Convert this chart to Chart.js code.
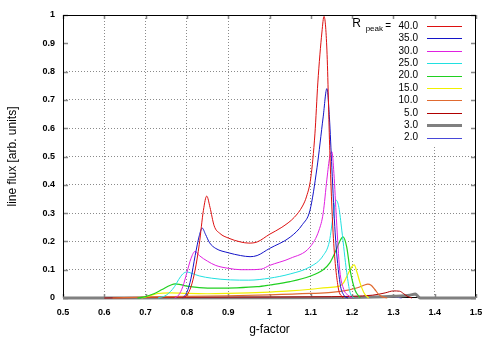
<!DOCTYPE html>
<html>
<head>
<meta charset="utf-8">
<script src="https://cdn.jsdelivr.net/npm/chart.js@4"></script>
<style>
  html, body { margin: 0; padding: 0; background: #fff; }
  #wrap { width: 498px; height: 349px; }
</style>
</head>
<body>
<div id="wrap"><canvas id="myChart"></canvas></div>
<script>
//legend labels (R_peak values), top to bottom
const peakLabels = ['40.0', '35.0', '30.0', '25.0', '20.0', '15.0', '10.0', '5.0', '3.0', '2.0'];

//g-factor and line flux, one pair per curve
const gR40 = [0.79, 0.80, 0.81, 0.82, 0.83, 0.84, 0.848, 0.856, 0.866, 0.88, 0.90, 0.93, 0.95, 0.97, 1.00, 1.03, 1.06, 1.08, 1.09, 1.10, 1.11, 1.117, 1.127, 1.132, 1.139, 1.146, 1.154, 1.166, 1.178];
const fR40 = [0, 0.01, 0.04, 0.10, 0.19, 0.31, 0.36, 0.32, 0.255, 0.228, 0.212, 0.198, 0.194, 0.198, 0.225, 0.25, 0.285, 0.325, 0.36, 0.425, 0.58, 0.76, 0.94, 0.995, 0.876, 0.52, 0.23, 0.04, 0];

const gR35 = [0.79, 0.80, 0.81, 0.82, 0.83, 0.837, 0.845, 0.855, 0.87, 0.90, 0.93, 0.953, 0.97, 1.00, 1.05, 1.08, 1.098, 1.115, 1.13, 1.139, 1.145, 1.151, 1.159, 1.171, 1.18, 1.19];
const fR35 = [0, 0.02, 0.07, 0.15, 0.22, 0.247, 0.225, 0.195, 0.175, 0.16, 0.15, 0.146, 0.15, 0.175, 0.215, 0.26, 0.31, 0.46, 0.64, 0.74, 0.64, 0.46, 0.23, 0.05, 0.01, 0];

const gR30 = [0.77, 0.78, 0.79, 0.80, 0.81, 0.82, 0.83, 0.85, 0.87, 0.90, 0.93, 0.95, 0.98, 1.00, 1.05, 1.098, 1.12, 1.13, 1.139, 1.146, 1.151, 1.156, 1.162, 1.17, 1.18, 1.19, 1.20];
const fR30 = [0, 0.01, 0.04, 0.09, 0.14, 0.165, 0.15, 0.13, 0.115, 0.105, 0.1, 0.1, 0.102, 0.115, 0.14, 0.18, 0.24, 0.3, 0.42, 0.5, 0.517, 0.44, 0.28, 0.1, 0.03, 0.01, 0];

const gR25 = [0.73, 0.75, 0.77, 0.78, 0.79, 0.80, 0.81, 0.83, 0.86, 0.905, 0.95, 1.00, 1.05, 1.098, 1.13, 1.145, 1.155, 1.161, 1.168, 1.175, 1.187, 1.195, 1.205];
const fR25 = [0, 0.01, 0.04, 0.065, 0.085, 0.092, 0.088, 0.078, 0.07, 0.064, 0.063, 0.07, 0.085, 0.11, 0.15, 0.2, 0.3, 0.346, 0.32, 0.24, 0.09, 0.02, 0];

const gR20 = [0.68, 0.70, 0.72, 0.74, 0.76, 0.772, 0.785, 0.80, 0.83, 0.873, 0.92, 0.97, 1.00, 1.05, 1.098, 1.13, 1.146, 1.16, 1.17, 1.178, 1.187, 1.195, 1.207, 1.22];
const fR20 = [0, 0.005, 0.015, 0.03, 0.045, 0.05, 0.047, 0.042, 0.037, 0.035, 0.036, 0.04, 0.046, 0.058, 0.077, 0.1, 0.124, 0.165, 0.2, 0.216, 0.18, 0.1, 0.028, 0];

const gR15 = [0.69, 0.71, 0.73, 0.76, 0.80, 0.85, 0.90, 0.95, 1.00, 1.05, 1.10, 1.14, 1.17, 1.18, 1.19, 1.20, 1.205, 1.212, 1.22, 1.23, 1.24];
const fR15 = [0, 0.008, 0.016, 0.018, 0.016, 0.015, 0.016, 0.018, 0.021, 0.025, 0.031, 0.037, 0.042, 0.055, 0.085, 0.112, 0.117, 0.09, 0.05, 0.015, 0];

const gR10 = [0.62, 0.70, 0.80, 0.90, 1.00, 1.10, 1.15, 1.19, 1.215, 1.23, 1.238, 1.246, 1.255, 1.265, 1.275, 1.285];
const fR10 = [0, 0.003, 0.006, 0.008, 0.011, 0.016, 0.02, 0.028, 0.037, 0.046, 0.049, 0.045, 0.03, 0.012, 0.003, 0];

const gR5 = [0.60, 0.70, 0.90, 1.10, 1.20, 1.25, 1.28, 1.30, 1.315, 1.325, 1.335, 1.345];
const fR5 = [0, 0.002, 0.003, 0.004, 0.006, 0.01, 0.018, 0.025, 0.024, 0.015, 0.005, 0];

const gR3 = [0.50, 1.00, 1.20, 1.30, 1.34, 1.353, 1.36, 1.365, 1.50];
const fR3 = [0, 0.001, 0.002, 0.006, 0.01, 0.014, 0.005, 0, 0];

const gR2 = [0.75, 1.00, 1.25, 1.28, 1.30, 1.32];
const fR2 = [0, 0.001, 0.003, 0.005, 0.004, 0];

const gSeries = [gR40, gR35, gR30, gR25, gR20, gR15, gR10, gR5, gR3, gR2];
const fSeries = [fR40, fR35, fR30, fR25, fR20, fR15, fR10, fR5, fR3, fR2];

//curve colours, same order as the labels
const lineColors = ['#dd1010', '#1414c8', '#e020e0', '#20e0e0', '#20d020', '#f0f000', '#e06a30', '#b00000', '#808080', '#4848d8'];
const lineWidths = [1, 1, 1, 1, 1.2, 1.2, 1.2, 1, 3, 1];

const datasets = peakLabels.map((lab, i) => ({
  label: lab,
  data: gSeries[i].map((g, j) => ({x: g, y: fSeries[i][j]})),
  borderColor: lineColors[i],
  borderWidth: lineWidths[i],
  pointRadius: 0,
  cubicInterpolationMode: 'monotone',
  clip: 4,
  order: i
}));

const fmt = v => String(Number(v.toFixed(1)));

//draws the white key box, inward ticks and the frame, then the key
const framePlugin = {
  id: 'frame',
  beforeDatasetsDraw(chart) {
    const {ctx, chartArea: a, scales: {x, y}} = chart;
    ctx.save();
    const kx = x.getPixelForValue(1.091);
    const ky = y.getPixelForValue(0.54);
    ctx.fillStyle = '#fff';
    ctx.fillRect(kx, a.top + 1, a.right - kx - 1, ky - a.top);

    ctx.strokeStyle = '#888';
    ctx.lineWidth = 1.5;
    ctx.beginPath();
    x.ticks.forEach(t => {
      const px = Math.round(x.getPixelForValue(t.value)) + 0.5;
      ctx.moveTo(px, a.bottom); ctx.lineTo(px, a.bottom - 4);
      ctx.moveTo(px, a.top); ctx.lineTo(px, a.top + 4);
    });
    y.ticks.forEach(t => {
      const py = Math.round(y.getPixelForValue(t.value)) + 0.5;
      ctx.moveTo(a.left, py); ctx.lineTo(a.left + 5, py);
      ctx.moveTo(a.right, py); ctx.lineTo(a.right - 5, py);
    });
    ctx.stroke();

    ctx.strokeStyle = '#000';
    ctx.lineWidth = 1;
    ctx.strokeRect(a.left + 0.5, a.top + 0.5, a.right - a.left - 1, a.bottom - a.top - 1);
    ctx.restore();
  },
  afterDatasetsDraw(chart) {
    const {ctx} = chart;
    ctx.save();
    const textRight = 418, lineLeft = 427, lineRight = 462;
    ctx.fillStyle = '#000';
    ctx.textBaseline = 'middle';
    ctx.textAlign = 'right';
    chart.data.datasets.forEach((ds, i) => {
      const cy = 26 + i * 12.4;
      ctx.font = '10px "Liberation Sans", Arial, sans-serif';
      ctx.fillText(ds.label, textRight, cy);
      ctx.strokeStyle = ds.borderColor;
      ctx.lineWidth = Math.max(1, ds.borderWidth);
      ctx.beginPath();
      ctx.moveTo(lineLeft, Math.round(cy) + 0.5);
      ctx.lineTo(lineRight, Math.round(cy) + 0.5);
      ctx.stroke();
    });
    //key title R_peak =
    ctx.font = '10px "Liberation Sans", Arial, sans-serif';
    ctx.fillText('=', 391, 26);
    ctx.font = '8px "Liberation Sans", Arial, sans-serif';
    ctx.fillText('peak', 383, 29);
    ctx.font = '12px "Liberation Sans", Arial, sans-serif';
    ctx.fillText('R', 361, 24);
    ctx.restore();
  }
};

const tickFont = {family: '"Liberation Sans", Arial, sans-serif', size: 9, weight: 'bold'};
const titleFont = {family: '"Liberation Sans", Arial, sans-serif', size: 12};
const gridStyle = {dash: [1, 2]};

new Chart(document.getElementById('myChart'), {
  type: 'line',
  data: {datasets: datasets},
  options: {
    responsive: true,
    maintainAspectRatio: false,
    animation: false,
    layout: {padding: {top: 15, right: 22, left: 0, bottom: 0}},
    plugins: {legend: {display: false}, tooltip: {enabled: false}},
    scales: {
      x: {
        type: 'linear',
        min: 0.5,
        max: 1.5,
        afterFit: s => { s.height = 51; },
        ticks: {stepSize: 0.1, autoSkip: false, color: '#000', font: tickFont, padding: 9, callback: fmt},
        grid: {
          drawTicks: false,
          color: c => (c.tick && (Math.abs(c.tick.value - 0.5) < 1e-6 || Math.abs(c.tick.value - 1.5) < 1e-6)) ? 'rgba(0,0,0,0)' : '#8a8a8a'
        },
        border: {display: false, dash: gridStyle.dash},
        title: {display: true, text: 'g-factor', color: '#000', font: titleFont, padding: {top: 0, bottom: 12}}
      },
      y: {
        min: 0,
        max: 1,
        afterFit: s => { s.width = 63; },
        ticks: {stepSize: 0.1, autoSkip: false, color: '#000', font: tickFont, padding: 8, callback: fmt},
        grid: {
          drawTicks: false,
          color: c => (c.tick && (c.tick.value < 1e-6 || Math.abs(c.tick.value - 0.9) < 1e-6 || c.tick.value > 0.999)) ? 'rgba(0,0,0,0)' : '#8a8a8a'
        },
        border: {display: false, dash: gridStyle.dash},
        title: {display: true, text: 'line flux [arb. units]', color: '#000', font: titleFont, padding: {top: 5, bottom: 0}}
      }
    }
  },
  plugins: [framePlugin]
});
</script>
</body>
</html>
